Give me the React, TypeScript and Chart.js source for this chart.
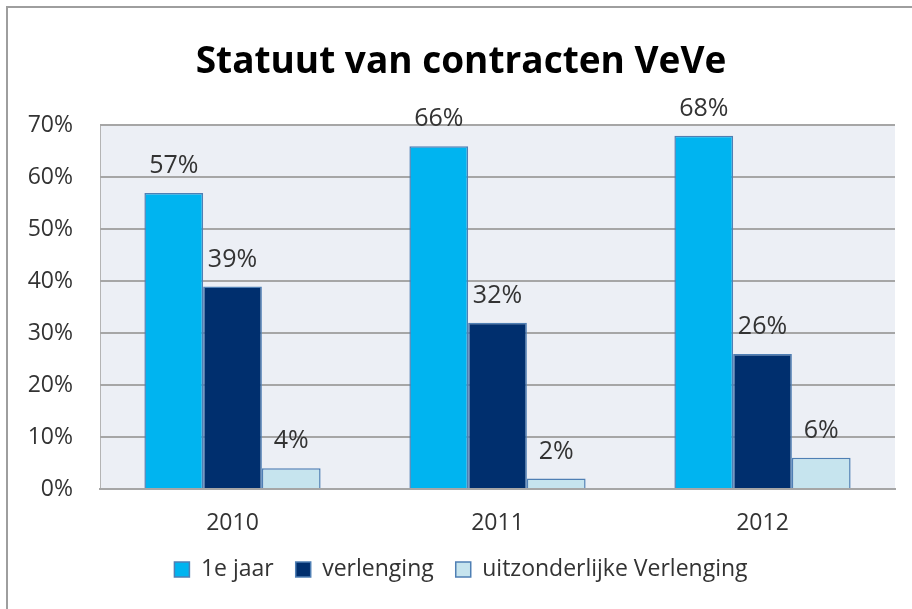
import React, { useEffect, useRef } from "react";
import { Chart, registerables } from "chart.js";

Chart.register(...registerables);

const categories = ["2010", "2011", "2012"];
const eersteJaar = [57, 66, 68];
const verlenging = [39, 32, 26];
const uitzonderlijk = [4, 2, 6];
const seriesNames = ["1e jaar", "verlenging", "uitzonderlijke Verlenging"];
const yTicks = [0, 10, 20, 30, 40, 50, 60, 70];

const FONT = "'Open Sans', 'DejaVu Sans', sans-serif";

const bgPlugin = {
  id: "plotBg",
  beforeDraw(chart: any) {
    const { ctx, chartArea } = chart;
    ctx.save();
    ctx.fillStyle = "#eceff5";
    ctx.fillRect(chartArea.left, chartArea.top, chartArea.right - chartArea.left, chartArea.bottom - chartArea.top);
    ctx.strokeStyle = "#b4b4b4";
    ctx.lineWidth = 1;
    ctx.beginPath();
    ctx.moveTo(chartArea.left + 0.5, chartArea.top);
    ctx.lineTo(chartArea.left + 0.5, chartArea.bottom);
    ctx.stroke();
    ctx.restore();
  },
};

const labelPlugin = {
  id: "valueLabels",
  afterDatasetsDraw(chart: any) {
    const { ctx } = chart;
    ctx.save();
    ctx.font = `25px ${FONT}`;
    ctx.fillStyle = "#333333";
    ctx.textAlign = "center";
    ctx.textBaseline = "middle";
    chart.data.datasets.forEach((ds: any, i: number) => {
      const meta = chart.getDatasetMeta(i);
      meta.data.forEach((bar: any, j: number) => {
        ctx.fillText(ds.data[j] + "%", bar.x, bar.y - 27);
      });
    });
    ctx.restore();
  },
};

export default function App() {
  const ref = useRef<HTMLCanvasElement>(null);
  useEffect(() => {
    if (!ref.current) return;
    const border = "#4f7fb4";
    const chart = new Chart(ref.current, {
      type: "bar",
      data: {
        labels: categories,
        datasets: [
          { label: seriesNames[0], data: eersteJaar, backgroundColor: "#00b4f0", borderColor: border, borderWidth: 1.5 },
          { label: seriesNames[1], data: verlenging, backgroundColor: "#002f6e", borderColor: border, borderWidth: 1.5 },
          { label: seriesNames[2], data: uitzonderlijk, backgroundColor: "#c6e4ee", borderColor: border, borderWidth: 1.5 },
        ],
      },
      options: {
        responsive: false,
        animation: false,
        layout: { padding: { left: 27, right: 17, top: 0, bottom: 18 } },
        datasets: { bar: { categoryPercentage: 0.665, barPercentage: 1 } },
        plugins: {
          title: {
            display: true,
            text: "Statuut van contracten VeVe",
            font: { family: FONT, size: 37, weight: "bold" },
            color: "#000000",
            padding: { top: 40, bottom: 41 },
          },
          legend: {
            position: "bottom",
            labels: {
              boxWidth: 15,
              boxHeight: 15,
              padding: 22,
              color: "#333333",
              font: { family: FONT, size: 23 },
            },
          },
          tooltip: { enabled: false },
        },
        scales: {
          x: {
            afterFit: (s: any) => {
              s.height = 47;
            },
            grid: { display: false, drawTicks: false },
            border: { display: true, color: "#a6a6a6", width: 2 },
            ticks: { color: "#333333", font: { family: FONT, size: 23 }, padding: 21 },
          },
          y: {
            min: 0,
            max: 70,
            afterBuildTicks: (s: any) => {
              s.ticks = yTicks.map((v) => ({ value: v }));
            },
            afterFit: (s: any) => {
              s.width = 73;
            },
            grid: { color: "#a6a6a6", lineWidth: 2, drawTicks: false },
            border: { display: false },
            ticks: {
              color: "#333333",
              font: { family: FONT, size: 23 },
              padding: 27,
              callback: (v: any) => v + "%",
            },
          },
        },
      },
      plugins: [bgPlugin, labelPlugin],
    });
    return () => chart.destroy();
  }, []);
  return (
    <div style={{ position: "fixed", left: 0, top: 0, width: 912, height: 609, background: "#ffffff" }}>
      <div
        style={{
          position: "absolute",
          left: 6,
          top: 6,
          width: 920,
          height: 620,
          borderLeft: "2px solid #9e9e9e",
          borderTop: "2px solid #9e9e9e",
        }}
      />
      <canvas ref={ref} width={912} height={609} style={{ position: "absolute", left: 0, top: 0 }} />
    </div>
  );
}
